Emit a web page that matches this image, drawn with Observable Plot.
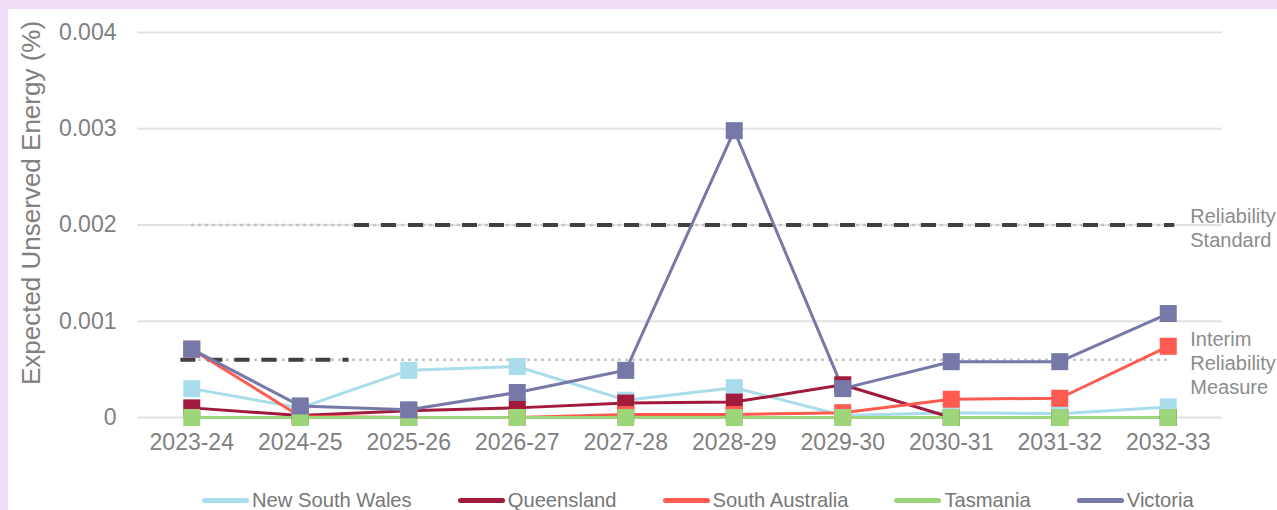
<!DOCTYPE html>
<html>
<head>
<meta charset="utf-8">
<script src="https://cdn.jsdelivr.net/npm/d3@7"></script>
<script src="https://cdn.jsdelivr.net/npm/@observablehq/plot@0.6"></script>
<style>
  html, body { margin: 0; padding: 0; }
  body { background: #EFDCF7; width: 1277px; height: 510px; overflow: hidden; font-family: "Liberation Sans", Arial, sans-serif; }
  #panel { position: absolute; left: 8px; top: 9px; width: 1269px; height: 501px; background: #ffffff; }
  #legend { display: flex; align-items: center; margin-top: 19px; padding-left: 194px; height: 20px; line-height: 20px; font-size: 20.2px; color: #777777; }
  .item { display: flex; align-items: center; margin-right: 46px; }
  .sw { width: 47px; height: 5px; border-radius: 3px; margin-right: 3px; }
</style>
</head>
<body>
<div id="panel"></div>
<script>
const years = ["2023-24","2024-25","2025-26","2026-27","2027-28","2028-29","2029-30","2030-31","2031-32","2032-33"];
const seriesNames = ["New South Wales","Queensland","South Australia","Tasmania","Victoria"];
const seriesColors = ["#A9DDEB","#A21A3C","#FF5B50","#9DD57A","#7679A8"];
const nswValues = [0.00030, 0.00010, 0.00049, 0.00053, 0.00018, 0.00031, 0.00002, 0.00005, 0.00004, 0.00011];
const qldValues = [0.00010, 0.00002, 0.00007, 0.00010, 0.00015, 0.00016, 0.00034, 0.00000, 0.00000, 0.00000];
const saValues  = [0.00071, 0.00001, 0.00000, 0.00000, 0.00003, 0.00003, 0.00005, 0.00019, 0.00020, 0.00074];
const tasValues = [0.00000, 0.00000, 0.00000, 0.00000, 0.00000, 0.00000, 0.00000, 0.00000, 0.00000, 0.00000];
const vicValues = [0.00071, 0.00012, 0.00008, 0.00026, 0.00049, 0.00298, 0.00030, 0.00058, 0.00058, 0.00108];
const yTicks = [0, 0.001, 0.002, 0.003, 0.004];
const yTickLabels = ["0", "0.001", "0.002", "0.003", "0.004"];
const yTitle = "Expected Unserved Energy (%)";
const thresholdLabels = ["Reliability\nStandard", "Interim\nReliability\nMeasure"];
const thresholdValues = [0.002, 0.0006];
const thresholdAppliesFrom = [1.5, -0.1];   // year index where the applicable level starts
const thresholdAppliesTo = [9.06, 1.45];    // year index where it ends

const allValues = [nswValues, qldValues, saValues, tasValues, vicValues];
const rows = [];
seriesNames.forEach((s, k) => allValues[k].forEach((v, i) => rows.push({state: s, i, value: v})));
const thresholds = thresholdValues.map((v, k) => ({value: v, label: thresholdLabels[k], from: thresholdAppliesFrom[k], to: thresholdAppliesTo[k], start: 0, end: years.length - 1}));

const W = 1269, H = 462;
const chart = Plot.plot({
  width: W, height: H,
  marginLeft: 129, marginRight: 55, marginTop: 23, marginBottom: 54,
  style: {fontFamily: "'Liberation Sans', Arial, sans-serif", color: "#808080", background: "transparent", overflow: "visible"},
  x: {type: "linear", domain: [-0.5, years.length - 0.5]},
  y: {domain: [0, 0.004]},
  color: {domain: seriesNames, range: seriesColors},
  marks: [
    Plot.ruleY(yTicks, {stroke: "#e2e2e2", strokeWidth: 2}),
    Plot.axisX({ticks: d3.range(years.length), tickFormat: d => years[d], tickSize: 0, tickPadding: 16, fontSize: 23, label: null}),
    Plot.axisY({ticks: yTicks, tickFormat: d => yTickLabels[yTicks.indexOf(d)], tickSize: 0, tickPadding: 21, fontSize: 23, label: null}),
    Plot.text([yTitle], {text: d => d, frameAnchor: "left", rotate: -90, dx: -116, dy: -22, fontSize: 26, fill: "#808080", textAnchor: "middle", lineAnchor: "top"}),
    Plot.ruleY(thresholds, {y: "value", x1: "start", x2: "end", stroke: "#bdbdbd", strokeWidth: 2.5, strokeDasharray: "2.5,4.5"}),
    Plot.ruleY(thresholds, {y: "value", x1: "from", x2: "to", stroke: "#404040", strokeWidth: 4, strokeDasharray: "15,12"}),
    Plot.lineY(rows, {x: "i", y: "value", z: "state", stroke: "state", strokeWidth: 3}),
    Plot.dot(rows, {x: "i", y: "value", fill: "state", symbol: "square", r: 9.6, stroke: null}),
    Plot.text(thresholds, {x: years.length - 1, y: "value", text: "label", textAnchor: "start", lineAnchor: "middle", lineHeight: 1.2, dx: 22, dy: 2.5, fontSize: 20, fill: "#8c8c8c"})
  ]
});
const panel = document.getElementById("panel");
panel.appendChild(chart);
const legend = document.createElement("div");
legend.id = "legend";
seriesNames.forEach((s, k) => {
  const it = document.createElement("div");
  it.className = "item";
  const sw = document.createElement("span");
  sw.className = "sw";
  sw.style.background = seriesColors[k];
  const tx = document.createElement("span");
  tx.textContent = s;
  it.appendChild(sw); it.appendChild(tx);
  legend.appendChild(it);
});
panel.appendChild(legend);
</script>
</body>
</html>
